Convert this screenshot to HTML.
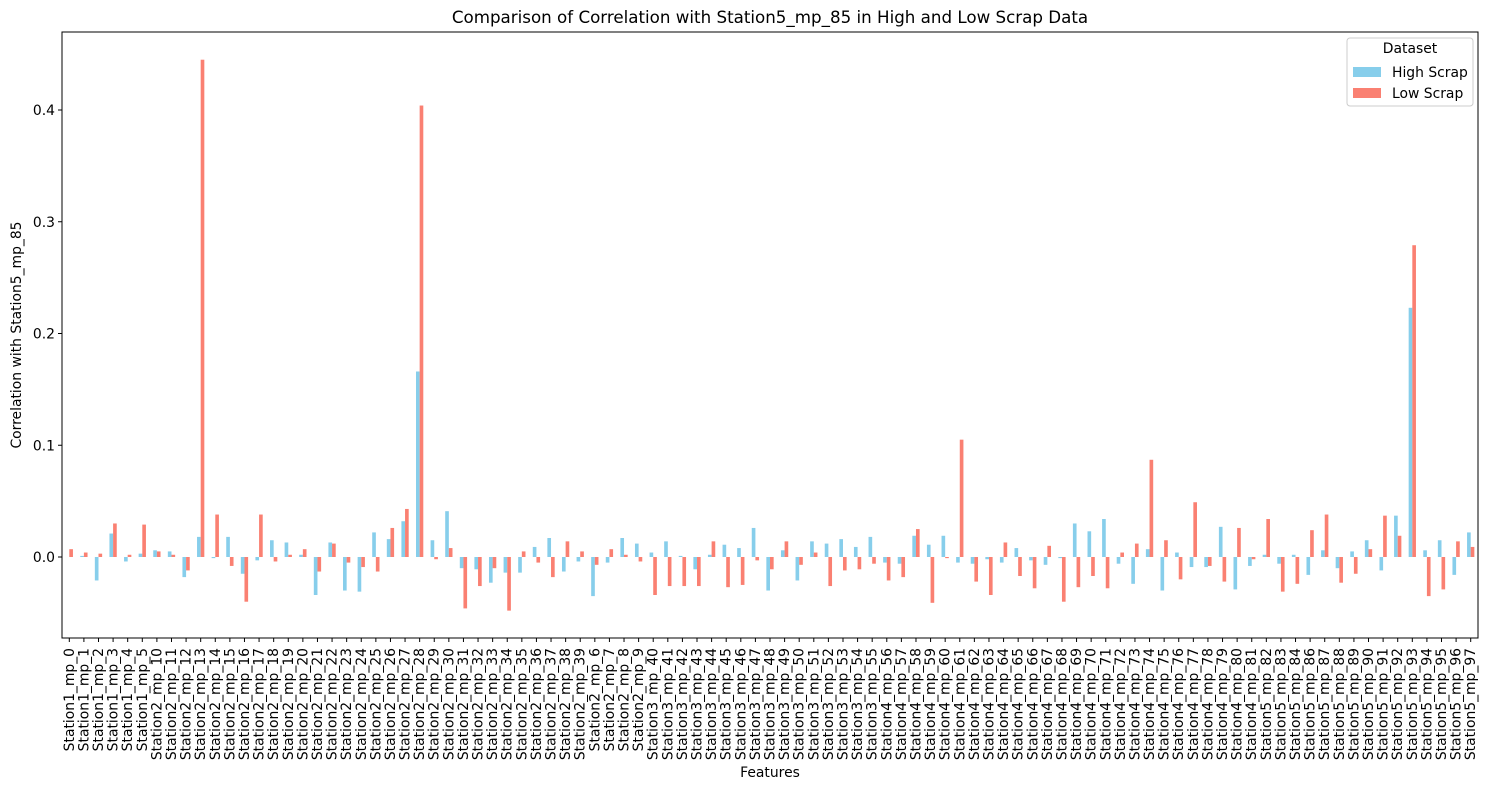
<!DOCTYPE html>
<html><head><meta charset="utf-8"><style>
body{margin:0;background:#fff;}
svg text{font-family:"DejaVu Sans","Liberation Sans",sans-serif;fill:#000;}
</style></head><body>
<svg id="chart" width="1489" height="790" xmlns="http://www.w3.org/2000/svg">
<text x="770" y="23" font-size="16.7" text-anchor="middle">Comparison of Correlation with Station5_mp_85 in High and Low Scrap Data</text>
<g id="bars"></g>
<g id="axes"></g>
<text transform="translate(21,335) rotate(-90)" font-size="13.9" text-anchor="middle">Correlation with Station5_mp_85</text>
<text x="770" y="777" font-size="13.9" text-anchor="middle">Features</text>
<g>
<rect x="1347" y="38" width="126" height="68" rx="3" fill="#fff" stroke="#ccc"/>
<text x="1410" y="53" font-size="13.9" text-anchor="middle">Dataset</text>
<rect x="1353" y="67" width="28" height="10" fill="#87ceeb"/>
<text x="1392" y="77" font-size="13.9">High Scrap</text>
<rect x="1353" y="88" width="28" height="10" fill="#fa8072"/>
<text x="1392" y="98" font-size="13.9">Low Scrap</text>
</g>
</svg>
<script>
const categories = ["Station1_mp_0","Station1_mp_1","Station1_mp_2","Station1_mp_3","Station1_mp_4","Station1_mp_5",
"Station2_mp_10","Station2_mp_11","Station2_mp_12","Station2_mp_13","Station2_mp_14","Station2_mp_15","Station2_mp_16","Station2_mp_17","Station2_mp_18","Station2_mp_19","Station2_mp_20","Station2_mp_21","Station2_mp_22","Station2_mp_23","Station2_mp_24","Station2_mp_25","Station2_mp_26","Station2_mp_27","Station2_mp_28","Station2_mp_29","Station2_mp_30","Station2_mp_31","Station2_mp_32","Station2_mp_33","Station2_mp_34","Station2_mp_35","Station2_mp_36","Station2_mp_37","Station2_mp_38","Station2_mp_39","Station2_mp_6","Station2_mp_7","Station2_mp_8","Station2_mp_9",
"Station3_mp_40","Station3_mp_41","Station3_mp_42","Station3_mp_43","Station3_mp_44","Station3_mp_45","Station3_mp_46","Station3_mp_47","Station3_mp_48","Station3_mp_49","Station3_mp_50","Station3_mp_51","Station3_mp_52","Station3_mp_53","Station3_mp_54","Station3_mp_55",
"Station4_mp_56","Station4_mp_57","Station4_mp_58","Station4_mp_59","Station4_mp_60","Station4_mp_61","Station4_mp_62","Station4_mp_63","Station4_mp_64","Station4_mp_65","Station4_mp_66","Station4_mp_67","Station4_mp_68","Station4_mp_69","Station4_mp_70","Station4_mp_71","Station4_mp_72","Station4_mp_73","Station4_mp_74","Station4_mp_75","Station4_mp_76","Station4_mp_77","Station4_mp_78","Station4_mp_79","Station4_mp_80","Station4_mp_81",
"Station5_mp_82","Station5_mp_83","Station5_mp_84","Station5_mp_86","Station5_mp_87","Station5_mp_88","Station5_mp_89","Station5_mp_90","Station5_mp_91","Station5_mp_92","Station5_mp_93","Station5_mp_94","Station5_mp_95","Station5_mp_96","Station5_mp_97"];
const highScrap = [0,0.001,-0.021,0.021,-0.004,0.003,
0.006,0.005,-0.018,0.018,-0.001,0.018,-0.015,-0.003,0.015,0.013,0.002,-0.034,0.013,-0.030,-0.031,0.022,0.016,0.032,0.166,0.015,0.041,-0.010,-0.011,-0.023,-0.014,-0.014,0.009,0.017,-0.013,-0.004,-0.035,-0.005,0.017,0.012,
0.004,0.014,0.001,-0.011,0.002,0.011,0.008,0.026,-0.030,0.006,-0.021,0.014,0.012,0.016,0.009,0.018,
-0.005,-0.006,0.019,0.011,0.019,-0.005,-0.006,-0.002,-0.005,0.008,-0.003,-0.007,-0.001,0.030,0.023,0.034,-0.006,-0.024,0.007,-0.030,0.004,-0.009,-0.009,0.027,-0.029,-0.008,
0.002,-0.006,0.002,-0.016,0.006,-0.010,0.005,0.015,-0.012,0.037,0.223,0.006,0.015,-0.016,0.022];
const lowScrap = [0.007,0.004,0.003,0.030,0.002,0.029,
0.005,0.002,-0.012,0.445,0.038,-0.008,-0.040,0.038,-0.004,0.002,0.007,-0.013,0.012,-0.005,-0.009,-0.013,0.026,0.043,0.404,-0.002,0.008,-0.046,-0.026,-0.010,-0.048,0.005,-0.005,-0.018,0.014,0.005,-0.007,0.007,0.002,-0.004,
-0.034,-0.026,-0.026,-0.026,0.014,-0.027,-0.025,-0.003,-0.011,0.014,-0.007,0.004,-0.026,-0.012,-0.011,-0.006,
-0.021,-0.018,0.025,-0.041,-0.001,0.105,-0.022,-0.034,0.013,-0.017,-0.028,0.010,-0.040,-0.027,-0.017,-0.028,0.004,0.012,0.087,0.015,-0.020,0.049,-0.008,-0.022,0.026,-0.002,
0.034,-0.031,-0.024,0.024,0.038,-0.023,-0.015,0.007,0.037,0.019,0.279,-0.035,-0.029,0.014,0.009];
const yTicks = [0.0,0.1,0.2,0.3,0.4];
const yTickLabels = ["0.0","0.1","0.2","0.3","0.4"];

const NS="http://www.w3.org/2000/svg";
const L=62,R=1478,T=32,B=638;
const y0px=557, pxPerUnit=1117.5;
function y(v){return y0px - v*pxPerUnit;}
const n=categories.length;
function x(i){return L + (i+0.5)*(R-L)/n;}
const step=(R-L)/n, bw=step*0.25;
function mk(tag,attrs,parent){const e=document.createElementNS(NS,tag);for(const k in attrs)e.setAttribute(k,attrs[k]);parent.appendChild(e);return e;}
const bars=document.getElementById('bars'), axes=document.getElementById('axes');
for(let i=0;i<n;i++){
  const h=highScrap[i], l=lowScrap[i];
  const r1=mk('rect',{x:x(i)-bw,y:Math.min(y(h),y(0)),width:bw,height:Math.abs(y(h)-y(0)),fill:'#87ceeb'},bars);
  
  
  const r2=mk('rect',{x:x(i),y:Math.min(y(l),y(0)),width:bw,height:Math.abs(y(l)-y(0)),fill:'#fa8072'},bars);
  
  
  const tk=mk('line',{x1:x(i),x2:x(i),y1:B,y2:B+4,stroke:'#000','stroke-width':1},axes);
  
  
  const tl=mk('text',{transform:`translate(${x(i)+4.5},${B+10}) rotate(-90)`,'font-size':13.9,'text-anchor':'end'},axes);
  tl.textContent=categories[i];
  
  
}
yTicks.forEach((v,k)=>{
  const tk=mk('line',{x1:L-4,x2:L,y1:y(v),y2:y(v),stroke:'#000'},axes);
  
  
  const t=mk('text',{x:L-7,y:y(v)+5,'font-size':13.9,'text-anchor':'end'},axes);
  t.textContent=yTickLabels[k];
  
  
});
const frame=mk('rect',{x:L,y:T,width:R-L,height:B-T,fill:'none',stroke:'#000','stroke-width':1},axes);


</script>
</body></html>
